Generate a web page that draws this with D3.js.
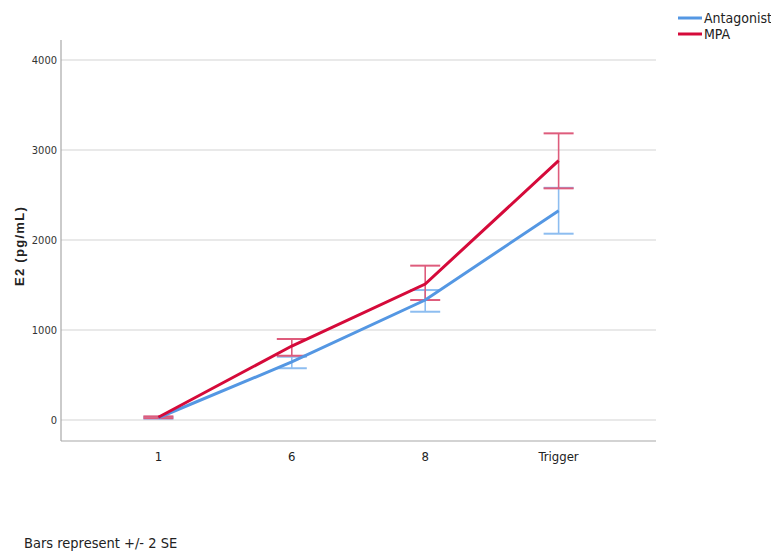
<!DOCTYPE html>
<html>
<head>
<meta charset="utf-8">
<script src="https://cdn.jsdelivr.net/npm/d3@7"></script>
<style>
  body { margin: 0; background: #fff; }
  text { font-family: "DejaVu Sans Condensed", "Liberation Sans", sans-serif; }
</style>
</head>
<body>
<script>
var categories = ["1", "6", "8", "Trigger"];
var yTicks = [0, 1000, 2000, 3000, 4000];

// mean, lower, upper (+/- 2 SE)
var antagonistMean = [25, 645, 1333, 2326];
var antagonistLow = [15, 575, 1203, 2070];
var antagonistHigh = [35, 703, 1444, 2580];

var mpaMean = [30, 822, 1511, 2881];
var mpaLow = [20, 714, 1333, 2574];
var mpaHigh = [40, 900, 1715, 3185];

var series = [
  {name: "Antagonist", mean: antagonistMean, lo: antagonistLow, hi: antagonistHigh, line: "#5497e3", bar: "#8dbdf0"},
  {name: "MPA", mean: mpaMean, lo: mpaLow, hi: mpaHigh, line: "#d50a3a", bar: "#de5c7c"}
];

var width = 771, height = 555;
var svg = d3.select("body").append("svg")
  .attr("width", width)
  .attr("height", height);

var plotLeft = 61, plotRight = 656, plotTop = 40, plotBottom = 441;

var x = d3.scalePoint().domain(categories).range([plotLeft, plotRight]).padding(0.73);
var y = d3.scaleLinear().domain([0, 4000]).range([420, 60]);

// gridlines
svg.append("g")
  .selectAll("line")
  .data(yTicks).enter()
  .append("line")
  .attr("x1", plotLeft).attr("x2", plotRight)
  .attr("y1", d => y(d)).attr("y2", d => y(d))
  .style("stroke", "#d4d4d4")
  .style("stroke-width", 1.2);

// axes lines
svg.append("line")
  .attr("x1", plotLeft).attr("x2", plotLeft).attr("y1", plotTop).attr("y2", plotBottom)
  .style("stroke", "#a8a8a8").style("stroke-width", 1.2);
svg.append("line")
  .attr("x1", plotLeft).attr("x2", plotRight).attr("y1", plotBottom).attr("y2", plotBottom)
  .style("stroke", "#a8a8a8").style("stroke-width", 1.2);

// y tick labels
svg.append("g")
  .selectAll("text")
  .data(yTicks).enter()
  .append("text")
  .attr("x", 57)
  .attr("y", d => y(d) + 4)
  .attr("text-anchor", "end")
  .style("font-size", "11px")
  .style("fill", "#333")
  .text(d => d);

// x tick labels
svg.append("g")
  .selectAll("text")
  .data(categories).enter()
  .append("text")
  .attr("x", d => x(d))
  .attr("y", 461)
  .attr("text-anchor", "middle")
  .style("font-size", "13px")
  .style("fill", "#222")
  .text(d => d);

// y axis title
svg.append("text")
  .attr("transform", "translate(24,246) rotate(-90)")
  .attr("text-anchor", "middle")
  .style("font-family", "Liberation Sans, Arial, sans-serif")
  .style("font-weight", "bold")
  .style("font-size", "13px")
  .style("letter-spacing", "1.3px")
  .style("fill", "#222")
  .text("E2 (pg/mL)");

var line = d3.line()
  .x((d, i) => x(categories[i]))
  .y(d => y(d));

var capW = 15;
series.forEach(function(s) {
  var g = svg.append("g");
  var idx = categories.map((c, i) => i);
  // error bars
  g.selectAll("line.v").data(idx).enter().append("line")
    .attr("x1", i => x(categories[i])).attr("x2", i => x(categories[i]))
    .attr("y1", i => y(s.lo[i])).attr("y2", i => y(s.hi[i]))
    .style("stroke", s.bar).style("stroke-width", 1.6);
  g.selectAll("line.lo").data(idx).enter().append("line")
    .attr("x1", i => x(categories[i]) - capW).attr("x2", i => x(categories[i]) + capW)
    .attr("y1", i => y(s.lo[i])).attr("y2", i => y(s.lo[i]))
    .style("stroke", s.bar).style("stroke-width", 2);
  g.selectAll("line.hi").data(idx).enter().append("line")
    .attr("x1", i => x(categories[i]) - capW).attr("x2", i => x(categories[i]) + capW)
    .attr("y1", i => y(s.hi[i])).attr("y2", i => y(s.hi[i]))
    .style("stroke", s.bar).style("stroke-width", 2);
});

series.forEach(function(s) {
  svg.append("path")
    .datum(s.mean)
    .attr("d", line)
    .style("fill", "none")
    .style("stroke", s.line)
    .style("stroke-width", 3);
});

// legend
var leg = svg.append("g");
series.forEach(function(s, i) {
  leg.append("line")
    .attr("x1", 678).attr("x2", 702)
    .attr("y1", 18 + i * 16).attr("y2", 18 + i * 16)
    .style("stroke", s.line).style("stroke-width", 3);
  leg.append("text")
    .attr("x", 704).attr("y", 23 + i * 16)
    .style("font-size", "14px")
    .style("fill", "#222")
    .text(s.name);
});

svg.append("text")
  .attr("x", 24).attr("y", 548)
  .style("font-size", "14.5px")
  .style("fill", "#222")
  .text("Bars represent +/- 2 SE");
</script>
</body>
</html>
